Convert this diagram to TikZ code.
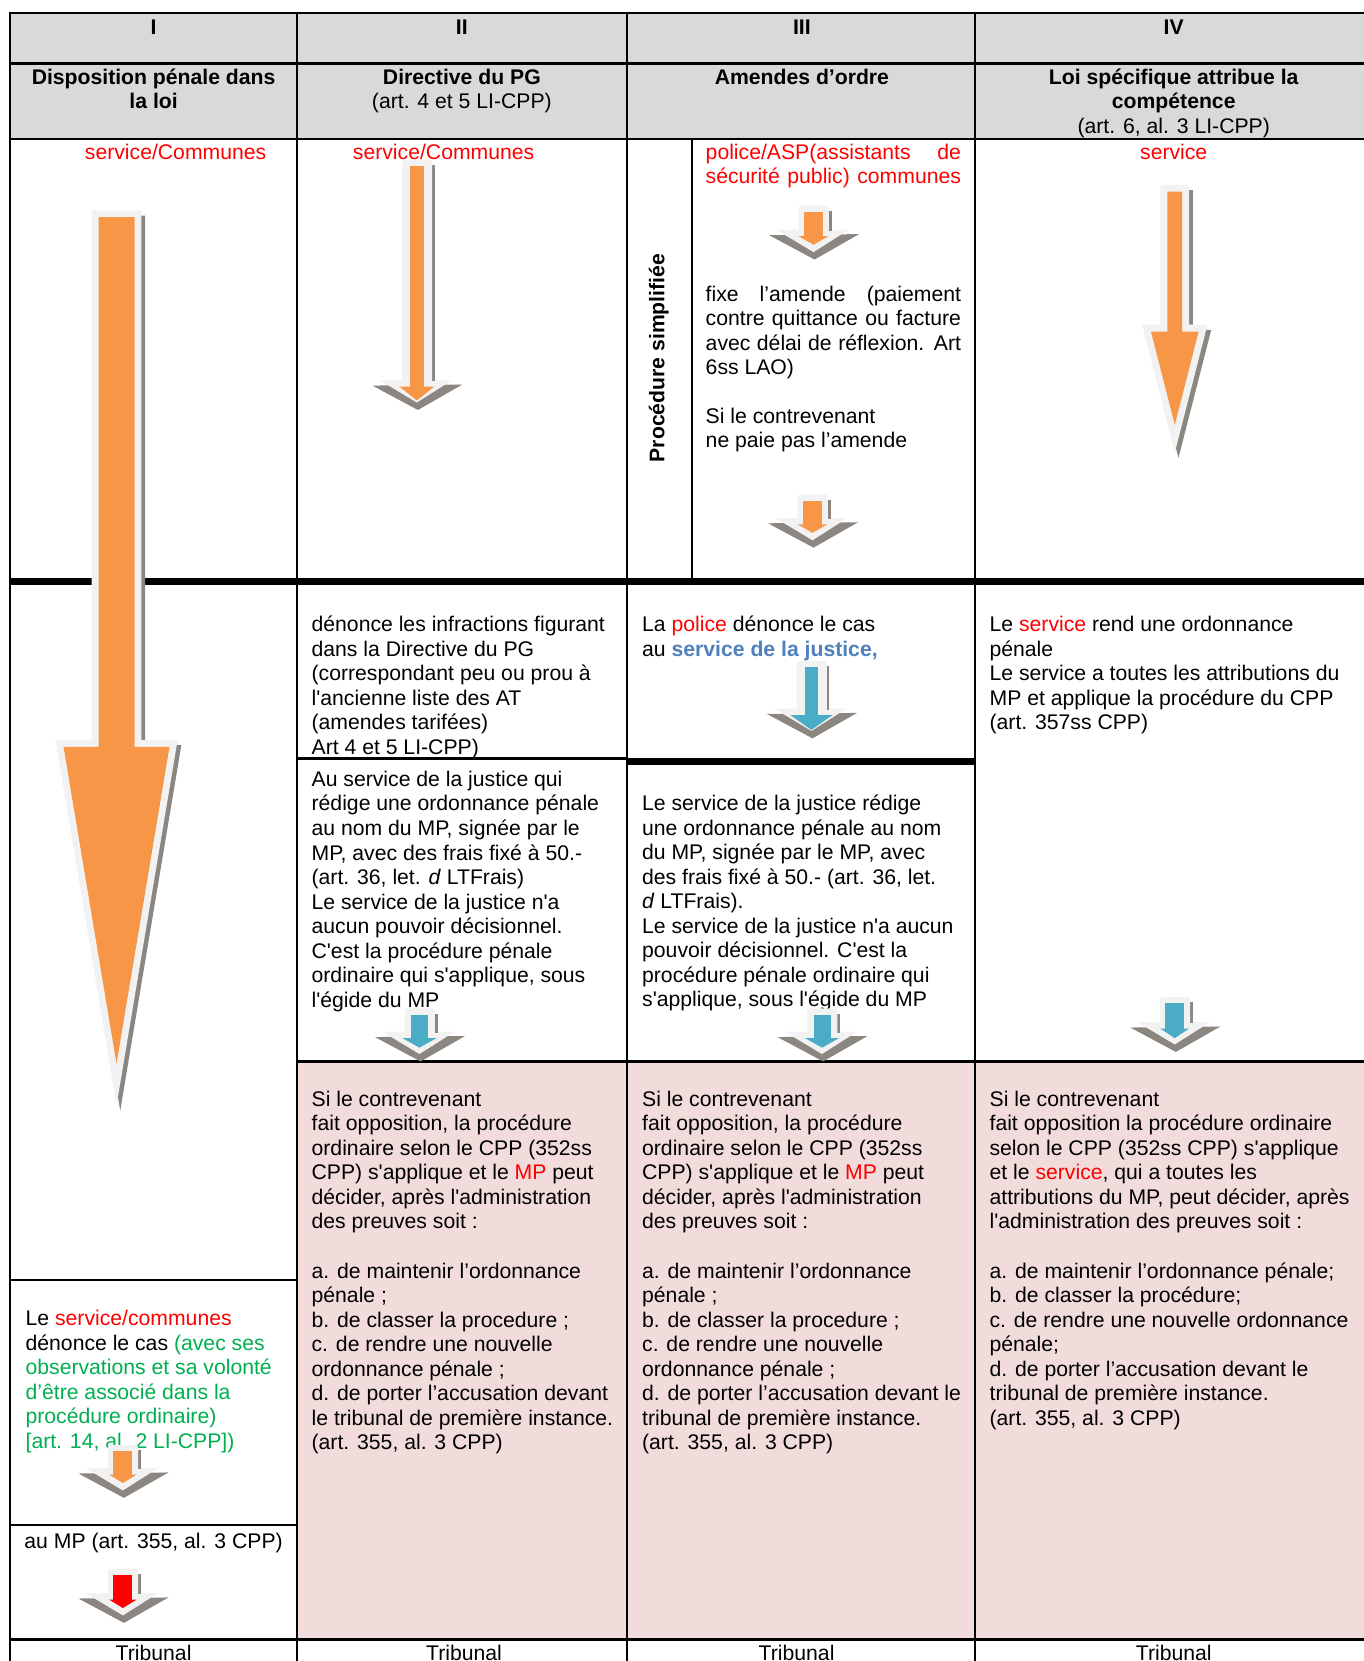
\documentclass[tikz,border=0pt]{standalone}
\usepackage{fontspec}
\setmainfont{Liberation Sans}[Ligatures=TeXOff]
\definecolor{orng}{HTML}{F79646}
\definecolor{glc}{HTML}{F2F2F2}
\definecolor{shc}{HTML}{8C8681}
\definecolor{blu}{HTML}{4BACC6}
\definecolor{jblue}{HTML}{4F81BD}
\definecolor{grn}{HTML}{00B050}
\definecolor{pinkc}{HTML}{F2DCDB}
\definecolor{hdr}{HTML}{D9D9D9}
\newcommand\fsz{\fontsize{20}{23.15}\selectfont}
% long arrow with glow and shadow: cx, shaft top, shaft hw, head top, head hw, tip y
\newcommand\bigarrow[6]{%
  \filldraw[shc, line width=13pt, line join=miter, shift={(3.5,5)}]
    (#1-#3,#2) -- (#1+#3,#2) -- (#1+#3,#4) -- (#1+#5,#4) -- (#1,#6) -- (#1-#5,#4) -- (#1-#3,#4) -- cycle;
  \filldraw[glc, line width=13pt, line join=miter]
    (#1-#3,#2) -- (#1+#3,#2) -- (#1+#3,#4) -- (#1+#5,#4) -- (#1,#6) -- (#1-#5,#4) -- (#1-#3,#4) -- cycle;
  \fill[orng]
    (#1-#3,#2) -- (#1+#3,#2) -- (#1+#3,#4) -- (#1+#5,#4) -- (#1,#6) -- (#1-#5,#4) -- (#1-#3,#4) -- cycle;
}
% chevron arrow: cx, glow top, chevron top, colour, shaft hw, head hw, head height
\newcommand\chevarrow[7]{%
  \fill[shc] (#1-42,#3+5) -- (#1+43,#3+4) -- (#1+1,#3+28) -- cycle;
  \fill[glc] (#1-35,#3) -- (#1+33,#3) -- (#1,#3+21) -- cycle;
  \fill[shc] (#1+14.5,#2+5) rectangle (#1+17,#3+1);
  \fill[glc, rounded corners=2.5pt] (#1-14,#2) rectangle (#1+14.5,#3+3);
  \fill[#4] (#1-#5,#2+6) rectangle (#1+#5,#3+6.5);
  \fill[#4] (#1-#6,#3+6) -- (#1+#6,#3+6) -- (#1,#3+6+#7) -- cycle;
}
\tikzset{
  tx/.style={anchor=north west, align=left, inner sep=0pt, font=\fsz},
  tc/.style={anchor=north, align=center, inner sep=0pt, font=\fsz},
  hb/.style={anchor=north, align=center, inner sep=0pt, font=\fsz\bfseries},
  rule/.style={line width=2pt, draw=black},
  thick rule/.style={line width=6pt, draw=black},
}
\begin{document}
\begin{tikzpicture}[x=1pt, y=-1pt]
\useasboundingbox (0,0) rectangle (1287,1568);
\fill[white] (0,0) rectangle (1287,1568);
% fills
\fill[hdr] (9.5,12) rectangle (1300,131);
\fill[pinkc] (280,1002) rectangle (1300,1548);
% horizontal rules
\draw[rule] (9.5,12) -- (1300,12);
\draw[rule] (9.5,60) -- (1300,60);
\draw[rule] (9.5,131) -- (1300,131);
\draw[thick rule] (9.5,549) -- (1300,549);
\draw[rule] (280,716) -- (592,716);
\draw[thick rule] (592,719) -- (920,719);
\draw[line width=2.5pt] (280,1002) -- (1300,1002);
\draw[rule] (9.5,1208) -- (280,1208);
\draw[rule] (9.5,1440) -- (280,1440);
\draw[line width=3pt] (9.5,1548) -- (1300,1548);
% vertical rules
\draw[rule] (9.5,11) -- (9.5,1580);
\draw[rule] (280,11) -- (280,1580);
\draw[rule] (592,11) -- (592,1580);
\draw[rule] (920,11) -- (920,1580);
\draw[rule] (653,131) -- (653,549);

% header
\node[hb] (h1) at (145,16) {\strut I};
\node[hb] (h2) at (436,16) {\strut II};
\node[hb] (h3) at (757,16) {\strut III};
\node[hb] (h4) at (1108,16) {\strut IV};
\node[hb] (t1) at (145,63) {\strut Disposition pénale dans\\la loi};
\node[tc] (t2) at (436,63) {\strut\textbf{Directive du PG}\\(art. 4 et 5 LI-CPP)};
\node[hb] (t3) at (757,63) {\strut Amendes d’ordre};
\node[tc] (t4) at (1108,63) {\strut\textbf{Loi spécifique attribue la}\\\textbf{compétence}\\(art. 6, al. 3 LI-CPP)};

% row 2
\node[tx, text=red] (r1) at (80,134) {\strut service/Communes};
\node[tx, text=red] (r2) at (333,134) {\strut service/Communes};
\node[tx, text=red] (r3) at (666,134) {\strut\makebox[241pt][s]{police/ASP(assistants de}\\\makebox[241pt][s]{sécurité public) communes}};
\node[tx] (r4) at (666,268) {\strut\makebox[241pt][s]{fixe l’amende (paiement}\\\makebox[241pt][s]{contre quittance ou facture}\\\makebox[241pt][s]{avec délai de réflexion. Art}\\6ss LAO)};
\node[tx] (r5) at (666,383) {\strut Si le contrevenant\\ne paie pas l’amende};
\node[tc, text=red] (r6) at (1108,134) {\strut service};
\node[font=\fsz\bfseries, rotate=90, inner sep=0pt] (ps) at (622,338) {Procédure simplifiée};

% row 3
\node[tx] (c2a) at (294,580) {\strut dénonce les infractions figurant\\dans la Directive du PG\\(correspondant peu ou prou à\\l'ancienne liste des AT\\(amendes tarifées)\\Art 4 et 5 LI-CPP)};
\node[tx] (c2b) at (294,726) {\strut Au service de la justice qui\\rédige une ordonnance pénale\\au nom du MP, signée par le\\MP, avec des frais fixé à 50.-\\(art. 36, let. \textit{d} LTFrais)\\Le service de la justice n'a\\aucun pouvoir décisionnel.\\C'est la procédure pénale\\ordinaire qui s'applique, sous\\l'égide du MP};
\node[tx] (c3a) at (606,580) {\strut La \textcolor{red}{police} dénonce le cas\\au \textcolor{jblue}{\textbf{service de la justice,}}};
\node[tx] (c3b) at (606,749) {\strut Le service de la justice rédige\\une ordonnance pénale au nom\\du MP, signée par le MP, avec\\des frais fixé à 50.- (art. 36, let.\\\textit{d} LTFrais).\\Le service de la justice n'a aucun\\pouvoir décisionnel. C'est la\\procédure pénale ordinaire qui\\s'applique, sous l'égide du MP};
\node[tx] (c4a) at (934,580) {\strut Le \textcolor{red}{service} rend une ordonnance\\pénale\\Le service a toutes les attributions du\\MP et applique la procédure du CPP\\(art. 357ss CPP)};

% pink row
\node[tx] (p2) at (294,1028) {\strut Si le contrevenant\\fait opposition, la procédure\\ordinaire selon le CPP (352ss\\CPP) s'applique et le \textcolor{red}{MP} peut\\décider, après l'administration\\des preuves soit :\\\strut\\a. de maintenir l’ordonnance\\pénale ;\\b. de classer la procedure ;\\c. de rendre une nouvelle\\ordonnance pénale ;\\d. de porter l’accusation devant\\le tribunal de première instance.\\(art. 355, al. 3 CPP)};
\node[tx] (p3) at (606,1028) {\strut Si le contrevenant\\fait opposition, la procédure\\ordinaire selon le CPP (352ss\\CPP) s'applique et le \textcolor{red}{MP} peut\\décider, après l'administration\\des preuves soit :\\\strut\\a. de maintenir l’ordonnance\\pénale ;\\b. de classer la procedure ;\\c. de rendre une nouvelle\\ordonnance pénale ;\\d. de porter l’accusation devant le\\tribunal de première instance.\\(art. 355, al. 3 CPP)};
\node[tx] (p4) at (934,1028) {\strut Si le contrevenant\\fait opposition la procédure ordinaire\\selon le CPP (352ss CPP) s'applique\\et le \textcolor{red}{service}, qui a toutes les\\attributions du MP, peut décider, après\\l'administration des preuves soit :\\\strut\\a. de maintenir l’ordonnance pénale;\\b. de classer la procédure;\\c. de rendre une nouvelle ordonnance\\pénale;\\d. de porter l’accusation devant le\\tribunal de première instance.\\(art. 355, al. 3 CPP)};

% column I lower
\node[tx] (c1a) at (24,1235) {\strut Le \textcolor{red}{service/communes}\\dénonce le cas \textcolor{grn}{(avec ses}\\\textcolor{grn}{observations et sa volonté}\\\textcolor{grn}{d’être associé dans la}\\\textcolor{grn}{procédure ordinaire)}\\\textcolor{grn}{[art. 14, al. 2 LI-CPP])}};
\node[tc] (c1b) at (145,1445) {\strut au MP (art. 355, al. 3 CPP)};

% bottom
\node[tc] (tr1) at (145,1551) {\strut Tribunal};
\node[tc] (tr2) at (438,1551) {\strut Tribunal};
\node[tc] (tr3) at (752,1551) {\strut Tribunal};
\node[tc] (tr4) at (1108,1551) {\strut Tribunal};

% arrows
\bigarrow{110}{205}{17}{705}{50}{1004}
\bigarrow{1109}{181}{7}{313}{22.5}{401}
\chevarrow{393.5}{151}{359}{orng}{6.5}{16.5}{13}
\chevarrow{768}{194}{217}{orng}{9}{14}{8}
\chevarrow{767}{467}{489}{orng}{9}{14}{8}
\chevarrow{766}{624}{669}{blu}{6.5}{20}{14}
\chevarrow{396}{952}{974}{blu}{8}{16}{9}
\chevarrow{776}{952}{974}{blu}{8}{16}{9}
\chevarrow{1109}{941}{965}{blu}{9}{13.5}{9}
\chevarrow{116}{1364}{1386}{orng}{9}{13}{8}
\chevarrow{116}{1481}{1504}{red}{9}{13}{8}
\end{tikzpicture}
\end{document}
